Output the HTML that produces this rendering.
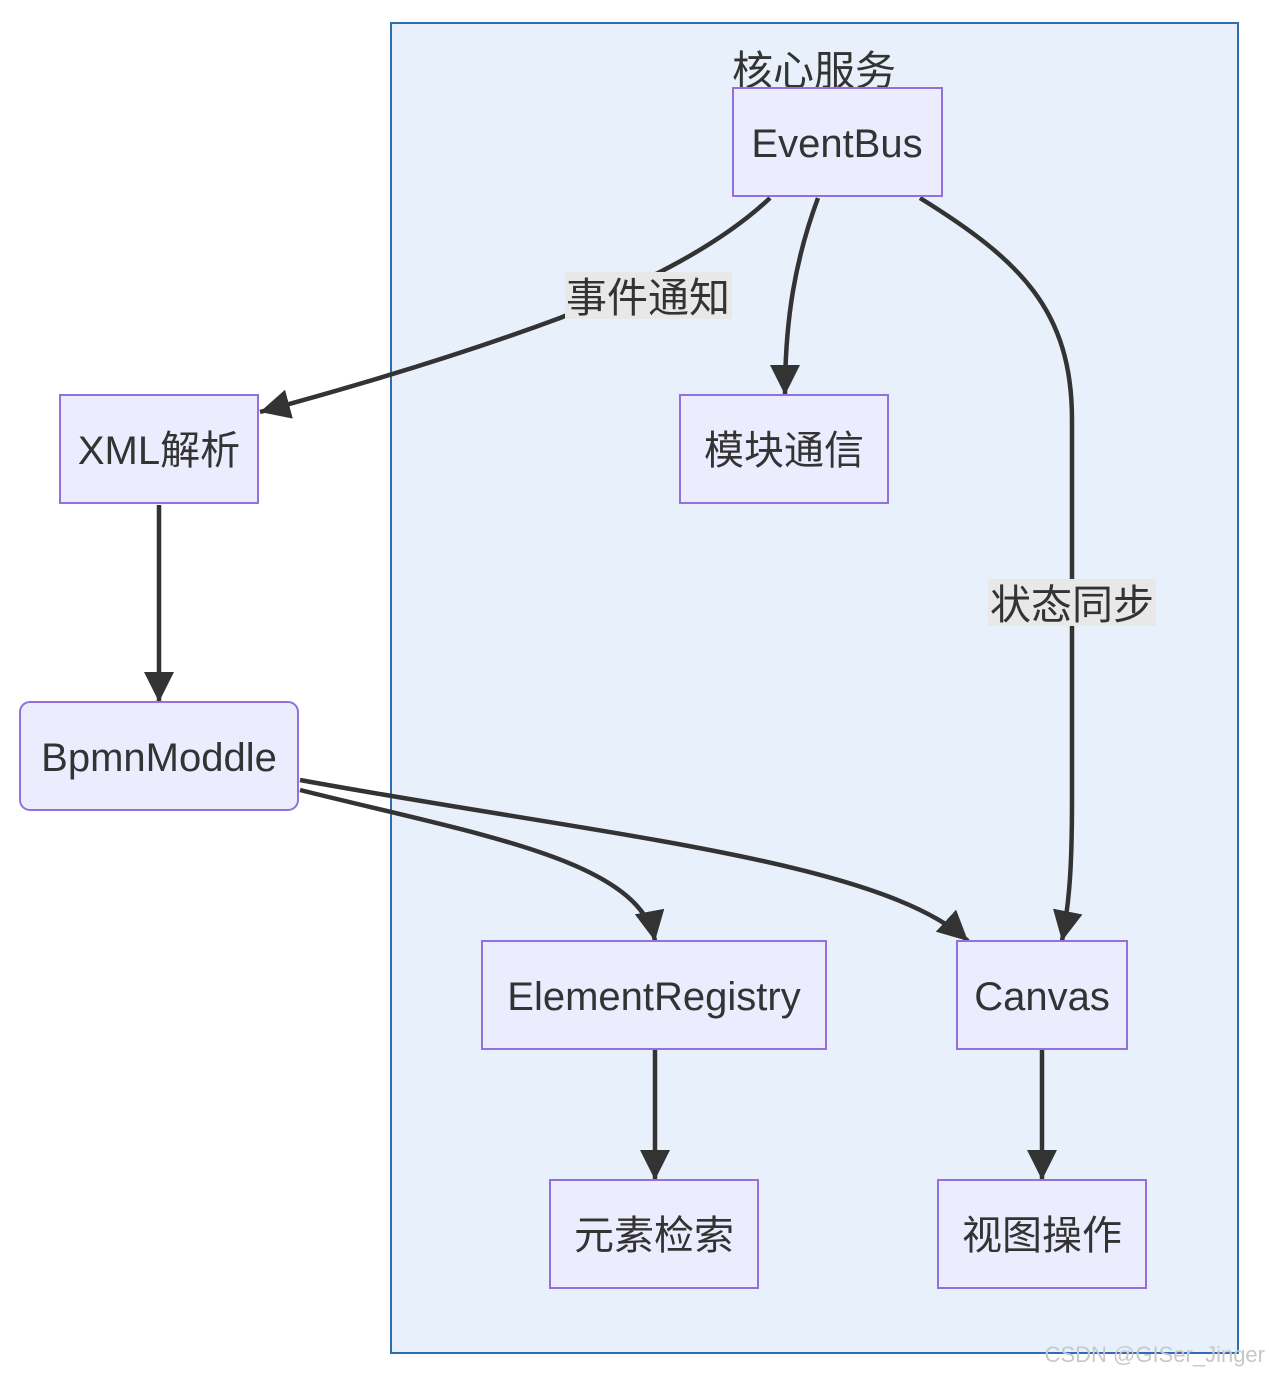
<!DOCTYPE html>
<html><head><meta charset="utf-8"><style>
html,body{margin:0;padding:0;background:#fff;}
svg text{font-family:"Liberation Sans","Noto Sans CJK SC",sans-serif;fill:#333;}
</style></head><body>
<svg width="1269" height="1375" viewBox="0 0 1269 1375" xmlns="http://www.w3.org/2000/svg">
<defs>
<marker id="a" markerUnits="userSpaceOnUse" markerWidth="32" markerHeight="30" refX="30" refY="15" orient="auto">
<path d="M0,0 L30,15 L0,30 Z" fill="#333"/>
</marker>
</defs>
<rect x="391" y="23" width="847" height="1330" fill="#e8f1fb" stroke="#2e6cb5" stroke-width="2"/>
<text x="814" y="85" font-size="41" text-anchor="middle">核心服务</text>
<g fill="none" stroke="#333" stroke-width="4.5">
<path d="M770,198 C720,245 650,280 560,318 C460,355 360,385 260,412" marker-end="url(#a)"/>
<path d="M818,198 C795,260 785,320 785,395" marker-end="url(#a)"/>
<path d="M920,198 C1020,260 1072,310 1072,420 L1072,800 C1072,860 1070,900 1062,941" marker-end="url(#a)"/>
<path d="M159,505 L159,702" marker-end="url(#a)"/>
<path d="M300,790 C480,835 640,860 655,941" marker-end="url(#a)"/>
<path d="M300,780 C600,835 880,860 968,941" marker-end="url(#a)"/>
<path d="M655,1050 L655,1180" marker-end="url(#a)"/>
<path d="M1042,1050 L1042,1180" marker-end="url(#a)"/>
</g>
<rect x="565" y="272" width="167" height="47" fill="#e8e8e8"/>
<text x="648" y="312" font-size="41" text-anchor="middle">事件通知</text>
<rect x="988" y="579" width="168" height="47" fill="#e8e8e8"/>
<text x="1072" y="619" font-size="41" text-anchor="middle">状态同步</text>
<g fill="#ececff" stroke="#9370db" stroke-width="2">
<rect x="733" y="88" width="209" height="108"/>
<rect x="60" y="395" width="198" height="108"/>
<rect x="680" y="395" width="208" height="108"/>
<rect x="20" y="702" width="278" height="108" rx="10"/>
<rect x="482" y="941" width="344" height="108"/>
<rect x="957" y="941" width="170" height="108"/>
<rect x="550" y="1180" width="208" height="108"/>
<rect x="938" y="1180" width="208" height="108"/>
</g>
<g font-size="40" text-anchor="middle">
<text x="837" y="157">EventBus</text>
<text x="159" y="464">XML解析</text>
<text x="784" y="464">模块通信</text>
<text x="159" y="771">BpmnModdle</text>
<text x="654" y="1010">ElementRegistry</text>
<text x="1042" y="1010">Canvas</text>
<text x="654" y="1249">元素检索</text>
<text x="1042" y="1249">视图操作</text>
</g>
<text x="1265" y="1362" font-size="22" text-anchor="end" style="fill:#c8c8c8">CSDN @GISer_Jinger</text>
</svg>
</body></html>
